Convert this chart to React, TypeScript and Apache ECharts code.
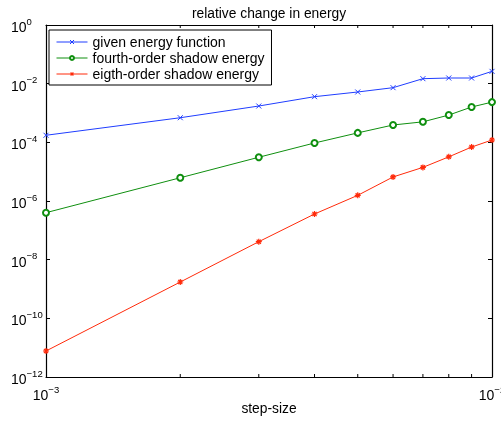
import React, { useEffect, useRef } from "react";
import * as echarts from "echarts";

const steps = [0.001, 0.002, 0.003, 0.004, 0.005, 0.006, 0.007, 0.008, 0.009, 0.01];
const givenEnergy = [1.74e-4, 6.9e-4, 1.73e-3, 3.6e-3, 5.2e-3, 7.3e-3, 1.48e-2, 1.56e-2, 1.56e-2, 2.63e-2];
const fourthOrder = [4.0e-7, 6.2e-6, 3.1e-5, 9.5e-5, 2.1e-4, 3.9e-4, 5.0e-4, 8.5e-4, 1.6e-3, 2.35e-3];
const eighthOrder = [7.7e-12, 1.73e-9, 4.1e-8, 3.6e-7, 1.56e-6, 6.6e-6, 1.4e-5, 3.2e-5, 6.9e-5, 1.2e-4];
const seriesNames = ["given energy function", "fourth-order shadow energy", "eigth-order shadow energy"];
const minorTicks = [0.002, 0.003, 0.004, 0.005, 0.006, 0.007, 0.008, 0.009];

const FONT = "'Liberation Sans', Arial, Helvetica, sans-serif";
const BLUE = "#1f3dff";
const GREEN = "#0f8f0f";
const RED = "#ff2a0a";

const xMark = "path://M0,0L10,10M10,0L0,10";
const star = "path://M5,0L5,10M0,5L10,5M1.5,1.5L8.5,8.5M8.5,1.5L1.5,8.5";

const expLabel = (v: number) => {
  const e = Math.round(Math.log10(v));
  return `{b|10}{s|${e < 0 ? "\u2212" + -e : e}}`;
};

const rich = {
  b: { fontSize: 14, fontFamily: FONT, color: "#000", verticalAlign: "bottom" },
  s: { fontSize: 9.5, fontFamily: FONT, color: "#000", verticalAlign: "top", padding: [0, 0, 8, 0] },
};

export default function App() {
  const ref = useRef<HTMLDivElement>(null);
  useEffect(() => {
    if (!ref.current) return;
    const chart = echarts.init(ref.current, undefined, { renderer: "svg" });
    const mk = (vals: number[]) => steps.map((x, i) => [x, vals[i]]);
    const axisCommon = {
      axisLine: { show: true, lineStyle: { color: "#000", width: 1.2 } },
      splitLine: { show: false },
    };
    const yCommon = {
      type: "log",
      min: 1e-12,
      max: 1,
      interval: 2,
      ...axisCommon,
      axisTick: { show: true, inside: true, length: 4, interval: 0, lineStyle: { color: "#000" } },
    };
    chart.setOption({
      animation: false,
      textStyle: { fontFamily: FONT, color: "#000" },
      title: {
        text: "relative change in energy",
        left: 264,
        textAlign: "center",
        top: 1,
        textStyle: { fontSize: 13.8, fontWeight: "normal", color: "#000", fontFamily: FONT },
      },
      grid: { left: 46, right: 9, top: 25, bottom: 44, containLabel: false, outerBoundsMode: "none" },
      legend: {
        orient: "vertical",
        left: 49,
        top: 30,
        borderColor: "#000",
        borderWidth: 1,
        backgroundColor: "#fff",
        padding: [4, 7, 3, 7],
        itemWidth: 31,
        itemHeight: 5,
        itemGap: 0,
        lineStyle: { width: 1 },
        itemStyle: { borderWidth: 1 },
        textStyle: { fontSize: 14, lineHeight: 16, color: "#000", fontFamily: FONT },
        data: seriesNames,
      },
      xAxis: [
        {
          type: "log",
          min: 0.001,
          max: 0.01,
          position: "bottom",
          name: "step-size",
          nameLocation: "middle",
          nameGap: 24,
          nameMoveOverlap: false,
          nameTextStyle: { fontSize: 13.8, color: "#000", fontFamily: FONT },
          ...axisCommon,
          axisTick: { show: true, inside: true, length: 4, lineStyle: { color: "#000" } },
          axisLabel: { show: true, margin: 7, formatter: expLabel, rich, hideOverlap: false },
        },
        {
          type: "log",
          min: 0.001,
          max: 0.01,
          position: "top",
          ...axisCommon,
          axisTick: { show: true, inside: true, length: 4, lineStyle: { color: "#000" } },
          axisLabel: { show: false },
        },
      ],
      yAxis: [
        {
          ...yCommon,
          position: "left",
          axisLabel: { show: true, interval: 0, margin: 35, align: "left", formatter: expLabel, rich },
        },
        {
          ...yCommon,
          position: "right",
          axisLabel: { show: false },
        },
      ],
      series: [
        {
          name: seriesNames[0],
          type: "line",
          data: mk(givenEnergy),
          symbol: xMark,
          symbolSize: 5,
          showAllSymbol: true,
          clip: false,
          lineStyle: { color: BLUE, width: 1 },
          itemStyle: { color: BLUE, borderColor: BLUE, borderWidth: 1 },
        },
        {
          name: seriesNames[1],
          type: "line",
          data: mk(fourthOrder),
          symbol: "emptyCircle",
          symbolSize: 6,
          showAllSymbol: true,
          clip: false,
          lineStyle: { color: GREEN, width: 1 },
          itemStyle: { color: GREEN, borderColor: GREEN, borderWidth: 1 },
        },
        {
          name: seriesNames[2],
          type: "line",
          data: mk(eighthOrder),
          symbol: star,
          symbolSize: 6,
          showAllSymbol: true,
          clip: false,
          lineStyle: { color: RED, width: 1 },
          itemStyle: { color: RED, borderColor: RED, borderWidth: 1.2 },
        },
        {
          type: "custom",
          silent: true,
          clip: false,
          data: minorTicks.map((v) => [v, 1e-12]),
          renderItem: (_params: any, api: any) => {
            const x = api.value(0);
            const b = api.coord([x, 1e-12]);
            const t = api.coord([x, 1]);
            return {
              type: "group",
              children: [
                { type: "line", shape: { x1: b[0], y1: b[1], x2: b[0], y2: b[1] - 3 }, style: { stroke: "#000", lineWidth: 1 } },
                { type: "line", shape: { x1: t[0], y1: t[1], x2: t[0], y2: t[1] + 3 }, style: { stroke: "#000", lineWidth: 1 } },
              ],
            };
          },
        },
      ],
    });
    return () => chart.dispose();
  }, []);
  return <div ref={ref} style={{ position: "fixed", left: 0, top: 0, width: 501, height: 421 }} />;
}
